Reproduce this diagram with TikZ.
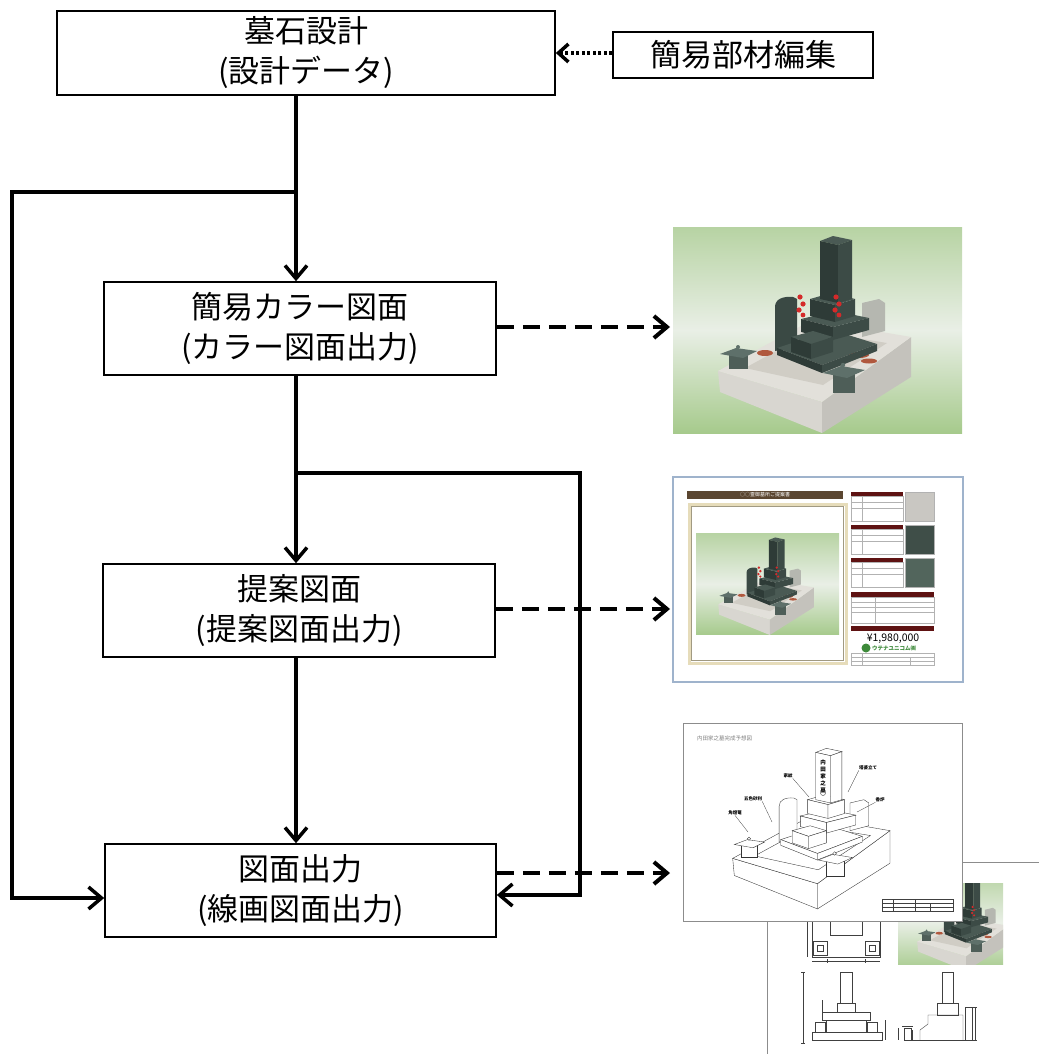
\documentclass[tikz,border=0pt]{standalone}
\usepackage{fontspec}
\setmainfont{Noto Sans CJK JP}
\usetikzlibrary{arrows.meta}
\definecolor{bgTop}{HTML}{B7D3A3}
\definecolor{bgMid}{HTML}{E9EFE6}
\definecolor{bgBot}{HTML}{A6CA8C}
\definecolor{curbLc}{HTML}{D8D6D0}
\definecolor{curbRc}{HTML}{C4C2BC}
\definecolor{topc}{HTML}{E2E0DA}
\definecolor{floorc}{HTML}{D0CDC5}
\definecolor{wallLc}{HTML}{3A4944}
\definecolor{wallRc}{HTML}{B5B7B0}
\definecolor{darkTc}{HTML}{4A5A54}
\definecolor{darkAc}{HTML}{2E3B37}
\definecolor{darkBc}{HTML}{3C4B46}
\definecolor{flowerc}{HTML}{D42A2A}
\definecolor{gravelc}{HTML}{B0583E}
\definecolor{lanAc}{HTML}{4E5E58}
\definecolor{lanTc}{HTML}{5E706A}
\definecolor{frameBlue}{HTML}{9FB3CC}
\definecolor{brownbar}{HTML}{5B4631}
\definecolor{cream}{HTML}{E6DCBA}
\definecolor{darkred}{HTML}{5E1212}
\definecolor{stoneA}{HTML}{C9C7C2}
\definecolor{stoneB}{HTML}{3F4E48}
\definecolor{stoneC}{HTML}{52655C}
\definecolor{logoGreen}{HTML}{3D8A3A}
\definecolor{sheetGray}{HTML}{8C8C8C}
\tikzset{
  flowbox/.style={draw, line width=1.6pt, align=center, inner sep=0pt,
    font=\fontsize{31}{40}\selectfont},
  conn/.style={line width=3.5pt, -{Straight Barb[length=13pt,width=22pt]}},
  dconn/.style={line width=4pt, dash pattern=on 17pt off 9pt,
    -{Straight Barb[length=13pt,width=22pt]}},
  dotconn/.style={line width=3.5pt, dash pattern=on 3pt off 2.5pt,
    -{Straight Barb[length=10pt,width=18pt]}},
  mbg/.style={top color=bgTop, bottom color=bgBot, middle color=bgMid},
  mcurbL/.style={fill=curbLc}, mcurbR/.style={fill=curbRc},
  mtop/.style={fill=topc}, mfloor/.style={fill=floorc},
  mwallL/.style={fill=wallLc}, mwallR/.style={fill=wallRc},
  mdarkT/.style={fill=darkTc}, mdarkA/.style={fill=darkAc}, mdarkB/.style={fill=darkBc},
  mflower/.style={fill=flowerc}, mgravel/.style={fill=gravelc},
  mlanA/.style={fill=lanAc}, mlanT/.style={fill=lanTc},
  la/.style={fill=white, draw=black!80, line width=0.35pt},
  lineart/.style={mbg/.style={}, mflower/.style={}, mgravel/.style={},
    mcurbL/.style={la}, mcurbR/.style={la}, mtop/.style={la}, mfloor/.style={la},
    mwallL/.style={la}, mwallR/.style={la}, mdarkT/.style={la}, mdarkA/.style={la},
    mdarkB/.style={la}, mlanA/.style={la}, mlanT/.style={la}},
  thin/.style={draw=black!75, line width=0.4pt},
  tiny/.style={inner sep=0pt, font=\fontsize{4.5}{5}\selectfont\bfseries},
  render/.pic={
    \path[mbg] (0,0) rectangle (289,206);
    \path[mcurbL] (45,144) -- (149,175) -- (149,206) -- (47,165) -- cycle;
    \path[mcurbR] (149,175) -- (238,110) -- (238,150) -- (149,206) -- cycle;
    \path[mtop] (45,144) -- (139,93) -- (238,110) -- (149,175) -- cycle;
    \path[mfloor] (72,141) -- (140,104) -- (214,116) -- (150,158) -- cycle;
    \path[mgravel] (92,126) ellipse (8 and 3) (186,128) ellipse (10 and 3) (196,134) ellipse (8 and 2.5);
    \path[mwallL] (102,124) -- (102,80) .. controls (102,72) and (110,69) .. (120,70) -- (124,72) -- (124,120) -- cycle;
    \path[mwallR] (189,110) -- (189,76) -- (206,72) -- (212,76) -- (212,104) -- cycle;
    \path[mdarkT] (104,121) -- (159,103) -- (204,117) -- (149,138) -- cycle;
    \path[mdarkA] (104,121) -- (149,138) -- (149,146) -- (104,128) -- cycle;
    \path[mdarkB] (149,138) -- (204,117) -- (204,124) -- (149,146) -- cycle;
    \path[mdarkT] (128,92) -- (162,84) -- (196,91) -- (160,100) -- cycle;
    \path[mdarkA] (128,92) -- (160,100) -- (160,113) -- (128,105) -- cycle;
    \path[mdarkB] (160,100) -- (196,91) -- (196,103) -- (160,113) -- cycle;
    \path[mdarkT] (137,72) -- (158,66) -- (182,72) -- (162,78) -- cycle;
    \path[mdarkA] (137,72) -- (162,78) -- (162,95) -- (137,89) -- cycle;
    \path[mdarkB] (162,78) -- (182,72) -- (182,89) -- (162,95) -- cycle;
    \path[mdarkT] (147,14) -- (160,9) -- (179,13) -- (165,18) -- cycle;
    \path[mdarkA] (147,14) -- (165,18) -- (165,76) -- (147,72) -- cycle;
    \path[mdarkB] (165,18) -- (179,13) -- (179,72) -- (165,76) -- cycle;
    \path[mdarkT] (118,110) -- (140,104) -- (160,110) -- (138,117) -- cycle;
    \path[mdarkA] (118,110) -- (138,117) -- (138,132) -- (118,125) -- cycle;
    \path[mdarkB] (138,117) -- (160,110) -- (160,125) -- (138,132) -- cycle;
    \path[mflower] (127,70) circle (2.6) (130,77) circle (2.6) (126,83) circle (2.6) (130,88) circle (2.4);
    \path[mflower] (163,70) circle (2.6) (166,77) circle (2.6) (162,83) circle (2.6) (166,88) circle (2.4);
    \path[mlanA] (56,127) rectangle (75,142);
    \path[mlanT] (47,127) -- (63,121) -- (84,124) -- (70,131) -- cycle;
    \path[mlanT] (65,120) circle (2);
    \path[mlanA] (160,147) rectangle (182,166);
    \path[mlanT] (150,146) -- (168,139) -- (192,143) -- (174,151) -- cycle;
    \path[mlanT] (170,138) circle (2.2);
  }
}
\begin{document}
\begin{tikzpicture}[x=1pt,y=-1pt]
\useasboundingbox (0,0) rectangle (1039,1054);

% ---------- flow boxes ----------
\node[flowbox, minimum width=498pt, minimum height=84pt] (b1) at (306,53) {墓石設計\\(設計データ)};
\node[flowbox, minimum width=260pt, minimum height=46pt] (bk) at (743,55) {簡易部材編集};
\node[flowbox, minimum width=392pt, minimum height=93pt] (b2) at (300,328.5) {簡易カラー図面\\(カラー図面出力)};
\node[flowbox, minimum width=392pt, minimum height=93pt] (b3) at (299,610.5) {提案図面\\(提案図面出力)};
\node[flowbox, minimum width=391pt, minimum height=93pt] (b4) at (300.5,890.5) {図面出力\\(線画図面出力)};

% ---------- connector points ----------
\coordinate (j1) at (296,192);
\coordinate (cl1) at (12,192);
\coordinate (cl2) at (12,898);
\coordinate (j2) at (296,473);
\coordinate (cr1) at (580,473);
\coordinate (cr2) at (580,895);
\coordinate (t1) at (670,327);
\coordinate (t2) at (670,609);
\coordinate (t3) at (670,873);

\draw[dotconn] (bk.west |- 0,53) -- (b1.east |- 0,53);
\draw[conn] (b1.south -| j1) -- (b2.north -| j1);
\draw[conn] (j1) -- (cl1) -- (cl2) -- (b4.west |- cl2);
\draw[conn] (b2.south -| j2) -- (b3.north -| j2);
\draw[conn] (j2) -- (cr1) -- (cr2) -- (b4.east |- cr2);
\draw[conn] (b3.south -| j2) -- (b4.north -| j2);
\draw[dconn] (b2.east |- t1) -- (t1);
\draw[dconn] (b3.east |- t2) -- (t2);
\draw[dconn] (b4.east |- t3) -- (t3);

% ---------- image 1: colour render ----------
\pic at (673,227) {render};

% ---------- image 2: proposal sheet ----------
\draw[draw=frameBlue, line width=1.2pt, fill=white] (673,477) rectangle (963,682);
\fill[brownbar] (687,491) rectangle (843,499);
\node[inner sep=0pt, text=white, font=\fontsize{5}{5}\selectfont] at (765,495) {○○霊御墓所ご提案書};
\draw[cream, line width=3pt] (689,504) rectangle (846,663);
\draw[cream!70!black, line width=0.3pt] (691.5,506.5) rectangle (843.5,660.5);
\pic[scale=0.495] at (696,533) {render};
\foreach \yy/\cc in {492/stoneA,525/stoneB,558/stoneC}{
  \fill[darkred] (851,\yy) rectangle (903,\yy+4);
  \draw[gray!60, line width=0.4pt] (851,\yy+4) rectangle (903,\yy+29);
  \draw[gray!60, line width=0.3pt] (851,\yy+10) -- (903,\yy+10) (851,\yy+16) -- (903,\yy+16) (862,\yy+4) -- (862,\yy+29);
  \fill[\cc, draw=gray!60, line width=0.4pt] (905,\yy) rectangle (934,\yy+29);
}
\fill[darkred] (851,592) rectangle (934,597);
\draw[gray!60, line width=0.4pt] (851,597) rectangle (934,623);
\draw[gray!60, line width=0.3pt] (851,602) -- (934,602) (851,607) -- (934,607) (851,612) -- (934,612) (875,597) -- (875,623);
\fill[darkred] (851,626) rectangle (934,631);
\node[inner sep=0pt, font=\fontsize{10.5}{11}\selectfont] at (893,638.5) {¥1,980,000};
\fill[logoGreen] (866,648) circle (4.5);
\node[inner sep=0pt, anchor=west, text=logoGreen, font=\fontsize{5.5}{6}\selectfont\bfseries] at (872,648.5) {ウテナユニコム㈱};
\draw[gray!60, line width=0.4pt] (851,653) rectangle (934,665);
\draw[gray!60, line width=0.3pt] (851,657) -- (934,657) (851,661) -- (934,661) (862,653) -- (862,665) (910,657) -- (910,665);

% ---------- image 3: line drawings ----------
\draw[sheetGray, line width=1pt] (962,862) -- (1039,862);
\draw[sheetGray, line width=1pt] (767,921) -- (767,1054);
\begin{scope}
  \clip (898,883) rectangle (1003,964);
  \pic[scale=0.47] at (896,874) {render};
\end{scope}
% plan view
\draw[thin] (812,921) -- (812,957) -- (880,957) -- (880,921);
\draw[thin] (813,941) rectangle (827,955) (865,941) rectangle (879,955);
\draw[thin] (817,945) rectangle (823,951) (869,945) rectangle (875,951);
\draw[thin] (830,921) -- (830,935) -- (862,935) -- (862,921);
\draw[thin] (807,921) -- (807,957) (812,961) -- (880,961) (827,959) -- (827,963) (865,959) -- (865,963);
% front view
\draw[thin] (840,972) rectangle (852,1003);
\draw[thin] (837,1003) rectangle (855,1012);
\draw[thin] (822,1012) rectangle (870,1020);
\draw[thin] (826,1020) rectangle (866,1032);
\draw[thin] (812,1032) rectangle (882,1040);
\draw[thin] (815,1022) rectangle (825,1032) (867,1022) rectangle (877,1032);
\draw[thin] (822,1000) -- (822,1012);
\draw[thin] (803,972) -- (803,1043) (801,972) -- (805,972) (801,1043) -- (805,1043);
\draw[thin] (885,1020) -- (885,1040);
% side view
\draw[thin] (942,972) rectangle (953,1003);
\draw[thin] (937,1003) rectangle (958,1015);
\draw[thin] (920,1040) -- (920,1030) -- (928,1024) -- (928,1015) -- (963,1015) -- (963,1040);
\draw[thin] (912,1030) -- (912,1040) -- (966,1040);
\draw[thin] (965,1007) rectangle (972,1040);
\draw[thin] (904,1028) rectangle (911,1040) (902,1026) -- (913,1026);
\draw[thin] (975,1007) -- (975,1040) (973,1007) -- (977,1007) (973,1040) -- (977,1040);
\draw[thin] (898,1028) -- (898,1040);
% front sheet
\draw[sheetGray, line width=1pt, fill=white] (683,723) rectangle (962,921);
\node[inner sep=0pt, anchor=west, text=gray, font=\fontsize{5.5}{6}\selectfont] at (697,738) {内田家之墓完成予想図};
\pic[lineart, scale=0.815] at (696,741) {render};
\node[inner sep=0pt, align=center, font=\fontsize{5.5}{7}\selectfont\bfseries] at (823,776) {内\\田\\家\\之\\墓};
\draw[thin] (823,793) circle (2.5);
\node[tiny] (l1) at (788,776) {家紋};
\node[tiny] (l2) at (868,768) {塔婆立て};
\node[tiny] (l3) at (753,799) {五色砂利};
\node[tiny] (l4) at (735,813) {角燈篭};
\node[tiny] (l5) at (880,800) {香炉};
\draw[thin, line width=0.3pt] (l1.south east) -- (809,797);
\draw[thin, line width=0.3pt] (l2.south west) -- (848,792);
\draw[thin, line width=0.3pt] (l3.south east) -- (772,822);
\draw[thin, line width=0.3pt] (l4.south) -- (748,832);
\draw[thin, line width=0.3pt] (l5.south west) -- (857,812);
\draw[thin] (882,899) rectangle (953,911);
\draw[thin, line width=0.3pt] (882,903) -- (953,903) (882,907) -- (953,907) (893,899) -- (893,911) (915,899) -- (915,911) (930,903) -- (930,911);
\end{tikzpicture}
\end{document}
